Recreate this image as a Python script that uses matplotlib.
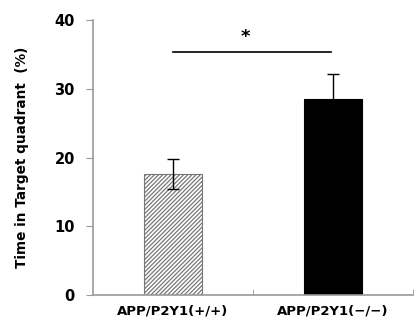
import matplotlib.pyplot as plt
import numpy as np

groups = ['APP/P2Y1(+/+)', 'APP/P2Y1(\u2212/\u2212)']
means = [17.6, 28.5]
errs = [2.2, 3.6]
sig_y = 35.3

plt.rcParams['font.family'] = 'DejaVu Sans'
plt.rcParams['hatch.linewidth'] = 0.9

fig = plt.figure(figsize=(4.17, 3.25), dpi=100)
ax = fig.add_axes([0.223, 0.092, 0.767, 0.846])

x = np.arange(len(groups))
b = ax.bar(x, means, width=0.36, color=['white', 'black'],
           edgecolor=['#777777', 'black'], linewidth=0.8)
b[0].set_hatch('////////')
ax.errorbar(x, means, yerr=errs, fmt='none', ecolor='black',
            elinewidth=1, capsize=4, capthick=1)

ax.plot([0, 0.99], [sig_y, sig_y], color='black', lw=1.2)
ax.text(0.45, sig_y + 0.9, '*', ha='center', va='bottom',
        fontsize=13, fontweight='bold')

ax.set_xlim(-0.5, 1.5)
ax.set_ylim(0, 40)
ax.set_yticks([0, 10, 20, 30, 40])
ax.set_xticks(x)
ax.set_xticklabels(groups, fontsize=9.5, fontweight='bold')
ax.set_xticks([0.5, 1.5], minor=True)
ax.tick_params(axis='x', which='major', length=0, pad=7)
ax.tick_params(axis='x', which='minor', direction='in', length=4,
               color='#999999')
ax.tick_params(axis='y', length=5, color='#999999', labelsize=10.5, pad=8)
for lab in ax.get_yticklabels():
    lab.set_fontweight('bold')

ax.set_ylabel('Time in Target quadrant  (%)', fontsize=9.8,
              fontweight='bold', labelpad=18)

for s in ['top', 'right']:
    ax.spines[s].set_visible(False)
for s in ['left', 'bottom']:
    ax.spines[s].set_color('#999999')
    ax.spines[s].set_linewidth(1.2)

fig.savefig('out.png')
